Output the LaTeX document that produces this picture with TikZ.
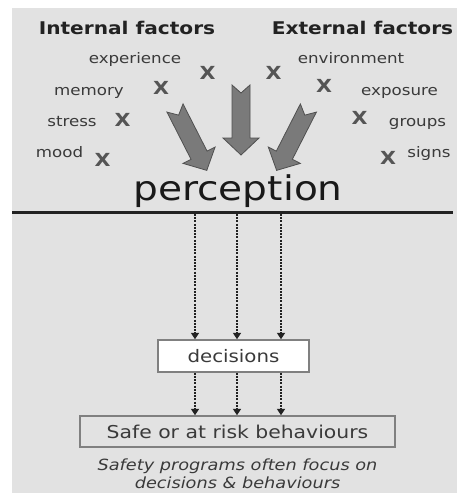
\documentclass[tikz,border=0pt]{standalone}
\usepackage{fontspec}
\setmainfont{DejaVu Sans}[FakeStretch=1.15]
\usetikzlibrary{arrows.meta}
\definecolor{panel}{HTML}{E2E2E2}
\definecolor{headink}{HTML}{222222}
\definecolor{labelink}{HTML}{3A3A3A}
\definecolor{markink}{HTML}{555555}
\definecolor{arrowfill}{HTML}{7A7A7A}
\definecolor{arrowline}{HTML}{505050}
\definecolor{boxline}{HTML}{808080}
\definecolor{flowink}{HTML}{222222}
\begin{document}
\begin{tikzpicture}[x=1pt,y=-1pt,
  header/.style={font=\bfseries\fontsize{17.5}{20}\selectfont, text=headink, anchor=base, inner sep=0},
  factor/.style={font=\fontsize{14.5}{17}\selectfont, text=labelink, anchor=base, inner sep=0},
  xmark/.style={font=\bfseries\fontsize{18}{20}\selectfont, text=markink, inner sep=0},
  bigarrow/.style={fill=arrowfill, draw=arrowline, line width=0.8, line join=miter},
  flow/.style={draw=flowink, line width=2.4, dash pattern=on 2pt off 1.2pt,
    -{Triangle[width=8pt,length=6.5pt]}},
  stage/.style={draw=boxline, line width=1.5, text=labelink, inner sep=0},
  caption/.style={font=\itshape\fontsize{15.4}{18}\selectfont, text=labelink, anchor=base, inner sep=0}
]
% canvas and panel
\useasboundingbox (0,0) rectangle (457,493);
\fill[white] (0,0) rectangle (457,493);
\fill[panel] (12,8) rectangle (457,493);

% headings
\node[header] (internal) at (127,34) {Internal factors};
\node[header] (external) at (362.5,34) {External factors};

% internal factors
\node[factor] (experience) at (135,63) {experience};
\node[factor] (memory) at (89,95) {memory};
\node[factor] (stress) at (72,126) {stress};
\node[factor] (mood) at (59.5,157) {mood};
\node[xmark] (xexperience) at (207.5,72.5) {X};
\node[xmark] (xmemory) at (161,88) {X};
\node[xmark] (xstress) at (122.5,120) {X};
\node[xmark] (xmood) at (102.5,160) {X};

% external factors
\node[factor] (environment) at (351,63) {environment};
\node[factor] (exposure) at (399.5,95) {exposure};
\node[factor] (groups) at (417.5,126) {groups};
\node[factor] (signs) at (429,157) {signs};
\node[xmark] (xenvironment) at (273.5,72.5) {X};
\node[xmark] (xexposure) at (324,86) {X};
\node[xmark] (xgroups) at (359.5,117.5) {X};
\node[xmark] (xsigns) at (388,158) {X};

% block arrows converging on perception
\begin{scope}[shift={(175,108)}, rotate=-63]
  \draw[bigarrow] (0,9) -- (53,9) -- (53,18) -- (70,0) -- (53,-18) -- (53,-9) -- (0,-9) -- (8,0) -- cycle;
\end{scope}
\begin{scope}[shift={(241,85)}, rotate=-90]
  \draw[bigarrow] (0,9) -- (53,9) -- (53,18) -- (70,0) -- (53,-18) -- (53,-9) -- (0,-9) -- (8,0) -- cycle;
\end{scope}
\begin{scope}[shift={(308.4,108)}, rotate=-117]
  \draw[bigarrow] (0,9) -- (53,9) -- (53,18) -- (70,0) -- (53,-18) -- (53,-9) -- (0,-9) -- (8,0) -- cycle;
\end{scope}

% perception and its rule
\node[font=\fontsize{34}{38}\selectfont, text=black!90, anchor=base, inner sep=0] (perception) at (238,200) {perception};
\coordinate (ruleL) at (12,212.5);
\coordinate (ruleR) at (453,212.5);
\draw[draw=headink, line width=3] (ruleL) -- (ruleR);

% stages
\node[stage, fill=white, minimum width=151, minimum height=32, font=\fontsize{17.2}{20}\selectfont] (decisions) at (233.5,356) {decisions};
\node[stage, minimum width=315, minimum height=31, font=\fontsize{17.7}{20}\selectfont] (behaviours) at (237.5,431.5) {Safe or at risk behaviours};

% dotted flows
\foreach \i/\x in {1/195,2/237,3/281} {
  \coordinate (top\i) at (\x,214);
  \draw[flow] (top\i) -- (top\i |- decisions.north);
  \draw[flow] (top\i |- decisions.south) -- (top\i |- behaviours.north);
}

% caption
\node[caption] (captionA) at (237.5,470) {Safety programs often focus on};
\node[caption] (captionB) at (237.5,488) {decisions \& behaviours};
\end{tikzpicture}
\end{document}
